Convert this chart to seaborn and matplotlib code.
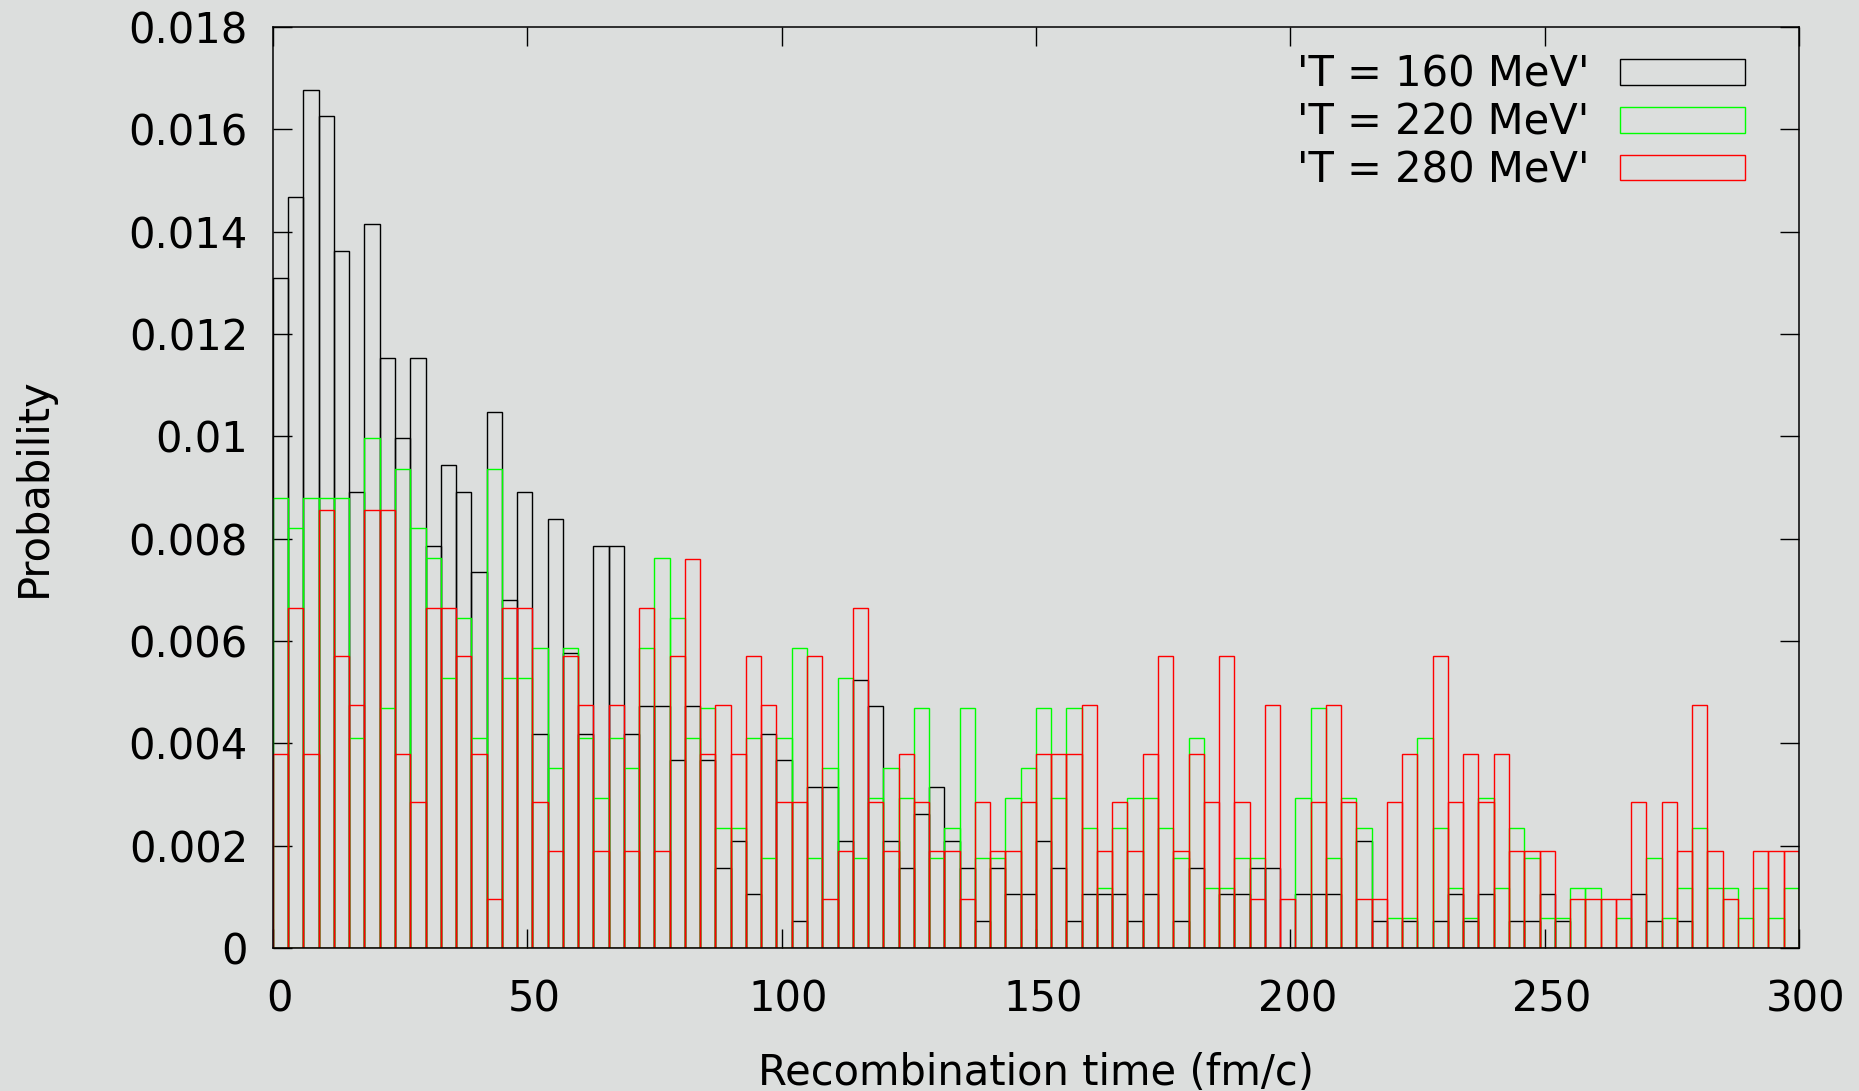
import numpy as np
import pandas as pd
import matplotlib
matplotlib.use("Agg")
import matplotlib.pyplot as plt
import matplotlib.transforms as mtransforms
from matplotlib.patches import Rectangle
import seaborn as sns

# ---------------- data ----------------
bin_width = 3
x_range = (0, 300)

series_labels = ["'T = 160 MeV'", "'T = 220 MeV'", "'T = 280 MeV'"]
series_colors = ["#000000", "#00ff00", "#ff0000"]

prob_160 = [
    0.01310, 0.01468, 0.01677, 0.01625, 0.01363, 0.00891, 0.01415, 0.01153, 0.00996, 0.01153,
    0.00786, 0.00943, 0.00891, 0.00734, 0.01048, 0.00681, 0.00891, 0.00419, 0.00839, 0.00577,
    0.00419, 0.00786, 0.00786, 0.00419, 0.00472, 0.00472, 0.00367, 0.00472, 0.00367, 0.00157,
    0.00210, 0.00105, 0.00419, 0.00367, 0.00052, 0.00314, 0.00314, 0.00210, 0.00524, 0.00472,
    0.00210, 0.00157, 0.00262, 0.00314, 0.00210, 0.00157, 0.00052, 0.00157, 0.00105, 0.00105,
    0.00210, 0.00157, 0.00052, 0.00105, 0.00105, 0.00105, 0.00052, 0.00105, 0.0, 0.00052,
    0.00157, 0.0, 0.00105, 0.00105, 0.00157, 0.00157, 0.0, 0.00105, 0.00105, 0.00105,
    0.0, 0.00210, 0.00052, 0.0, 0.00052, 0.0, 0.00052, 0.00105, 0.00052, 0.00105,
    0.0, 0.00052, 0.00052, 0.00105, 0.00052, 0.0, 0.0, 0.0, 0.0, 0.00105,
    0.00052, 0.0, 0.00052, 0.0, 0.0, 0.0, 0.0, 0.0, 0.0, 0.0,
]

prob_220 = [
    0.00879, 0.00820, 0.00879, 0.00879, 0.00879, 0.00410, 0.00996, 0.00469, 0.00937, 0.00820,
    0.00762, 0.00527, 0.00644, 0.00410, 0.00937, 0.00527, 0.00527, 0.00586, 0.00352, 0.00586,
    0.00410, 0.00293, 0.00410, 0.00352, 0.00586, 0.00762, 0.00644, 0.00410, 0.00469, 0.00234,
    0.00234, 0.00410, 0.00176, 0.00410, 0.00586, 0.00176, 0.00352, 0.00527, 0.00176, 0.00293,
    0.00352, 0.00293, 0.00469, 0.00176, 0.00234, 0.00469, 0.00176, 0.00176, 0.00293, 0.00352,
    0.00469, 0.00293, 0.00469, 0.00234, 0.00117, 0.00234, 0.00293, 0.00293, 0.00234, 0.00176,
    0.00410, 0.00117, 0.00117, 0.00176, 0.00176, 0.0, 0.0, 0.00293, 0.00469, 0.00176,
    0.00293, 0.00234, 0.0, 0.00059, 0.00059, 0.00410, 0.00234, 0.00117, 0.00059, 0.00293,
    0.00117, 0.00234, 0.00176, 0.00059, 0.00059, 0.00117, 0.00117, 0.0, 0.00059, 0.0,
    0.00176, 0.00059, 0.00117, 0.00234, 0.00117, 0.00117, 0.00059, 0.00117, 0.00059, 0.00117,
]

prob_280 = [
    0.00380, 0.00665, 0.00380, 0.00855, 0.00570, 0.00475, 0.00855, 0.00855, 0.00380, 0.00285,
    0.00665, 0.00665, 0.00570, 0.00380, 0.00095, 0.00665, 0.00665, 0.00285, 0.00190, 0.00570,
    0.00475, 0.00190, 0.00475, 0.00190, 0.00665, 0.00190, 0.00570, 0.00760, 0.00380, 0.00475,
    0.00380, 0.00570, 0.00475, 0.00285, 0.00285, 0.00570, 0.00095, 0.00190, 0.00665, 0.00285,
    0.00190, 0.00380, 0.00285, 0.00190, 0.00190, 0.00095, 0.00285, 0.00190, 0.00190, 0.00285,
    0.00380, 0.00380, 0.00380, 0.00475, 0.00190, 0.00285, 0.00190, 0.00380, 0.00570, 0.00190,
    0.00380, 0.00285, 0.00570, 0.00285, 0.00095, 0.00475, 0.00095, 0.0, 0.00285, 0.00475,
    0.00285, 0.00095, 0.00095, 0.00285, 0.00380, 0.0, 0.00570, 0.00285, 0.00380, 0.00285,
    0.00380, 0.00190, 0.00190, 0.00190, 0.0, 0.00095, 0.00095, 0.00095, 0.00095, 0.00285,
    0.0, 0.00285, 0.00190, 0.00475, 0.00190, 0.00095, 0.0, 0.00190, 0.00190, 0.00190,
]

x_ticks = [0, 50, 100, 150, 200, 250, 300]
y_ticks = [0, 0.002, 0.004, 0.006, 0.008, 0.010, 0.012, 0.014, 0.016, 0.018]
y_tick_labels = ["0", "0.002", "0.004", "0.006", "0.008", "0.01",
                 "0.012", "0.014", "0.016", "0.018"]
x_label = "Recombination time (fm/c)"
y_label = "Probability"

# ---------------- figure ----------------
sns.set_style("ticks")
plt.rcParams["font.family"] = ["DejaVu Sans"]
plt.rcParams["text.color"] = "black"
plt.rcParams["axes.labelcolor"] = "black"
bg = "#dcdedd"
fs = 30

fig = plt.figure(figsize=(18.59, 10.91), dpi=100)
fig.patch.set_facecolor(bg)
ax = fig.add_axes([0.1468, 0.1311, 0.8209, 0.8442])
ax.set_facecolor(bg)

n_bins = len(prob_160)
centers = x_range[0] + bin_width * (np.arange(n_bins) + 0.5)
all_probs = [prob_160, prob_220, prob_280]
for lab, col, probs in zip(series_labels, series_colors, all_probs):
    df = pd.DataFrame({"time": centers, "prob": np.asarray(probs, dtype=float)})
    sns.histplot(data=df, x="time", weights="prob", binwidth=bin_width,
                 binrange=x_range, fill=False, element="bars", color=col,
                 linewidth=1.0, ax=ax)

ax.set_xlim(*x_range)
ax.set_ylim(0, 0.018)
ax.set_xticks(x_ticks)
ax.set_xticklabels([str(t) for t in x_ticks])
ax.set_yticks(y_ticks)
ax.set_yticklabels(y_tick_labels)
ax.tick_params(axis="both", direction="in", length=14, width=1.0,
               top=True, right=True, labelsize=fs, colors="black",
               labelcolor="black")
ax.tick_params(axis="y", pad=18)
ax.tick_params(axis="x", pad=22)
# x tick labels sit slightly right of their ticks in the reference
shift = mtransforms.ScaledTranslation(0.07, 0, fig.dpi_scale_trans)
for lbl in ax.get_xticklabels():
    lbl.set_transform(lbl.get_transform() + shift)
for sp in ax.spines.values():
    sp.set_visible(True)
    sp.set_linewidth(1.1)
    sp.set_color("black")

ax.set_xlabel(x_label, fontsize=fs, labelpad=22.5, color="black")
ax.set_ylabel(y_label, fontsize=fs, labelpad=53, color="black")

handles = [Rectangle((0, 0), 1, 1, facecolor="none", edgecolor=c, linewidth=1.0)
           for c in series_colors]
ax.legend(handles, series_labels, loc="upper right", frameon=False,
          markerfirst=False, fontsize=fs, handlelength=3.0, handleheight=0.57,
          handletextpad=0.74, labelspacing=0.14, borderaxespad=0.0,
          borderpad=0.0, bbox_to_anchor=(0.9646, 0.971))

fig.savefig("out.png", dpi=100, facecolor=bg)
